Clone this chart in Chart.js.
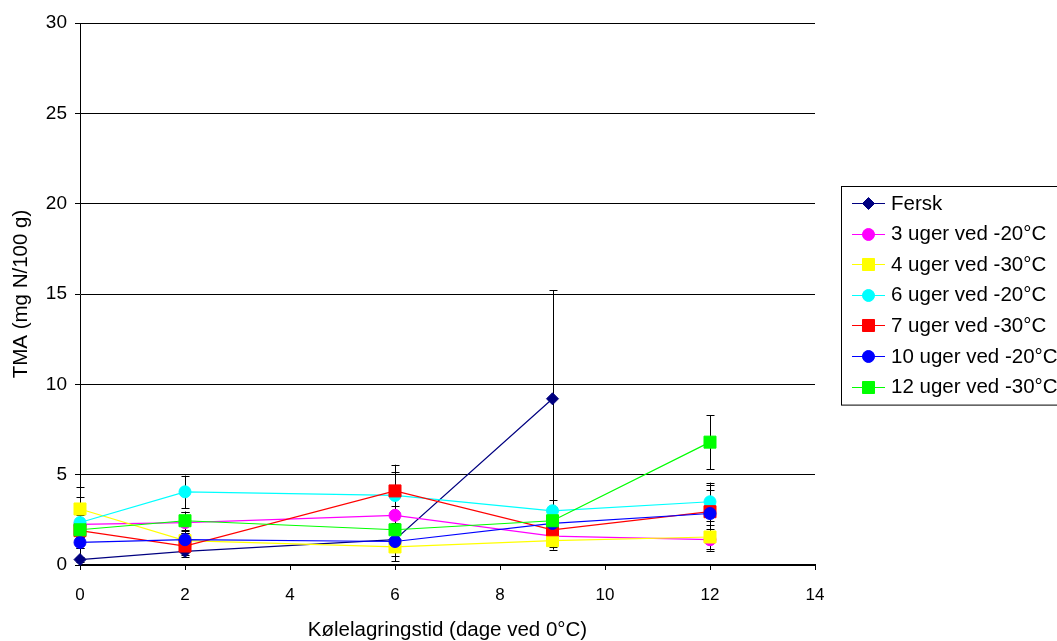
<!DOCTYPE html>
<html>
<head>
<meta charset="utf-8">
<script src="https://cdn.jsdelivr.net/npm/chart.js@4/dist/chart.umd.min.js"></script>
<style>
  html, body { margin: 0; padding: 0; background: #fff; }
  #wrap { width: 1057px; height: 641px; position: relative; overflow: hidden; }
</style>
</head>
<body>
<div id="wrap"><canvas id="c" width="1057" height="641"></canvas></div>
<script>
// ---- Data ----
const days = [0, 2, 6, 9, 12];
const seriesLabels = ["Fersk", "3 uger ved -20°C", "4 uger ved -30°C", "6 uger ved -20°C", "7 uger ved -30°C", "10 uger ved -20°C", "12 uger ved -30°C"];
const fersk      = [0.3, 0.75, 1.4, 9.2, null];
const uger3_20   = [2.25, 2.35, 2.75, 1.6, 1.4];
const uger4_30   = [3.1, 1.35, 1.0, 1.35, 1.55];
const uger6_20   = [2.35, 4.05, 3.85, 3.0, 3.5];
const uger7_30   = [1.9, 1.05, 4.1, 1.95, 2.95];
const uger10_20  = [1.25, 1.4, 1.3, 2.3, 2.85];
const uger12_30  = [1.95, 2.45, 1.95, 2.45, 6.8];
// symmetric error bar half-lengths
const errFersk   = [0.15, 0.3, 0.35, 6.0, null];
const err3_20    = [0.5, 0.6, 0.5, 0.6, 0.6];
const err4_30    = [1.2, 0.4, 0.8, 0.5, 0.65];
const err6_20    = [1.4, 0.9, 1.3, 0.6, 1.06];
const err7_30    = [0.5, 0.5, 1.45, 0.3, 1.47];
const err10_20   = [0.3, 0.5, 0.8, 0.4, 1.3];
const err12_30   = [0.4, 0.5, 0.4, 0.3, 1.5];
const yTicks = [0, 5, 10, 15, 20, 25, 30];
const xTicks = [0, 2, 4, 6, 8, 10, 12, 14];

const values = [fersk, uger3_20, uger4_30, uger6_20, uger7_30, uger10_20, uger12_30];
const errors = [errFersk, err3_20, err4_30, err6_20, err7_30, err10_20, err12_30];
const colors = ["#000080", "#FF00FF", "#FFFF00", "#00FFFF", "#FF0000", "#0000FF", "#00FF00"];
const styles = ["rectRot", "circle", "rect", "circle", "rect", "circle", "rect"];
const radii  = [6, 6, 8.5, 6, 8.5, 6, 8.5];

const FONT = "'Liberation Sans', Arial, sans-serif";

const datasets = values.map((vals, i) => ({
  label: seriesLabels[i],
  data: days.map((d, j) => vals[j] == null ? null : { x: d, y: vals[j], e: errors[i][j] }).filter(p => p),
  showLine: true,
  borderColor: colors[i],
  backgroundColor: colors[i],
  borderWidth: 1.2,
  pointStyle: styles[i],
  pointRadius: radii[i],
  pointHoverRadius: radii[i],
  pointBorderWidth: 1,
  pointBorderColor: colors[i],
  pointBackgroundColor: colors[i],
  clip: false,
  order: values.length - i
}));

const errorBars = {
  id: 'errorBars',
  beforeDatasetsDraw(chart) {
    const ctx = chart.ctx, xs = chart.scales.x, ys = chart.scales.y;
    ctx.save();
    ctx.strokeStyle = '#000';
    ctx.lineWidth = 1;
    chart.data.datasets.forEach(ds => {
      ds.data.forEach(p => {
        if (p.e == null) return;
        const x = Math.round(xs.getPixelForValue(p.x)) + 0.5;
        const y1 = ys.getPixelForValue(p.y + p.e);
        const y2 = ys.getPixelForValue(Math.max(p.y - p.e, 0));
        ctx.beginPath();
        ctx.moveTo(x, y1); ctx.lineTo(x, y2);
        ctx.moveTo(x - 4, Math.round(y1) + 0.5); ctx.lineTo(x + 4, Math.round(y1) + 0.5);
        if (p.y - p.e >= 0) { ctx.moveTo(x - 4, Math.round(y2) + 0.5); ctx.lineTo(x + 4, Math.round(y2) + 0.5); }
        ctx.stroke();
      });
    });
    ctx.restore();
  }
};

const customLegend = {
  id: 'customLegend',
  afterDraw(chart) {
    const ctx = chart.ctx;
    const left = 841, top = 186, w = 240, rowH = 30.6, firstY = 203;
    const n = chart.data.datasets.length;
    ctx.save();
    ctx.fillStyle = '#fff';
    ctx.strokeStyle = '#000';
    ctx.lineWidth = 1;
    ctx.fillRect(left, top, w, (n - 1) * rowH + 35);
    ctx.strokeRect(left + 0.5, top + 0.5, w, (n - 1) * rowH + 35);
    chart.data.datasets.forEach((ds, i) => {
      const y = firstY + i * rowH;
      ctx.strokeStyle = ds.borderColor;
      ctx.lineWidth = 1.2;
      ctx.beginPath();
      ctx.moveTo(852, Math.round(y) + 0.5);
      ctx.lineTo(885, Math.round(y) + 0.5);
      ctx.stroke();
      ctx.fillStyle = ds.pointBackgroundColor;
      ctx.strokeStyle = ds.pointBorderColor;
      ctx.lineWidth = 1;
      Chart.helpers.drawPoint(ctx, { pointStyle: ds.pointStyle, radius: ds.pointRadius, rotation: 0, borderWidth: 1 }, 868.5, Math.round(y) + 0.5);
      ctx.fillStyle = '#000';
      ctx.font = '20.5px ' + FONT;
      ctx.textBaseline = 'middle';
      ctx.textAlign = 'left';
      ctx.fillText(ds.label, 891, y + 1);
    });
    ctx.restore();
  }
};

new Chart(document.getElementById('c'), {
  type: 'scatter',
  data: { datasets },
  plugins: [errorBars, customLegend],
  options: {
    responsive: false,
    animation: false,
    events: [],
    layout: { padding: { top: 23, right: 242, bottom: 0, left: 0 } },
    plugins: { legend: { display: false }, tooltip: { enabled: false } },
    scales: {
      x: {
        type: 'linear',
        min: 0, max: 14,
        afterBuildTicks(scale) { scale.ticks = xTicks.map(v => ({ value: v })); },
        afterFit(scale) { scale.height = 76; },
        grid: { display: true, drawOnChartArea: false, drawTicks: true, tickLength: 5, color: '#000', lineWidth: 1 },
        border: { display: true, color: '#000', width: 2 },
        ticks: { color: '#000', font: { family: FONT, size: 17 }, padding: 15, maxRotation: 0 },
        title: { display: true, text: 'Kølelagringstid (dage ved 0°C)', color: '#000', font: { family: FONT, size: 20.5, lineHeight: 1 }, padding: 0 }
      },
      y: {
        type: 'linear',
        min: 0, max: 30,
        afterBuildTicks(scale) { scale.ticks = yTicks.map(v => ({ value: v })); },
        afterFit(scale) { scale.width = 80; },
        grid: { display: true, drawOnChartArea: true, drawTicks: true, tickLength: 5, color: '#000', lineWidth: 1 },
        border: { display: true, color: '#000', width: 1 },
        ticks: { color: '#000', font: { family: FONT, size: 19 }, padding: 8 },
        title: { display: true, text: 'TMA (mg N/100 g)', color: '#000', font: { family: FONT, size: 20.5, lineHeight: 1.2 }, padding: { top: 9, bottom: 0 } }
      }
    }
  }
});
</script>
</body>
</html>
